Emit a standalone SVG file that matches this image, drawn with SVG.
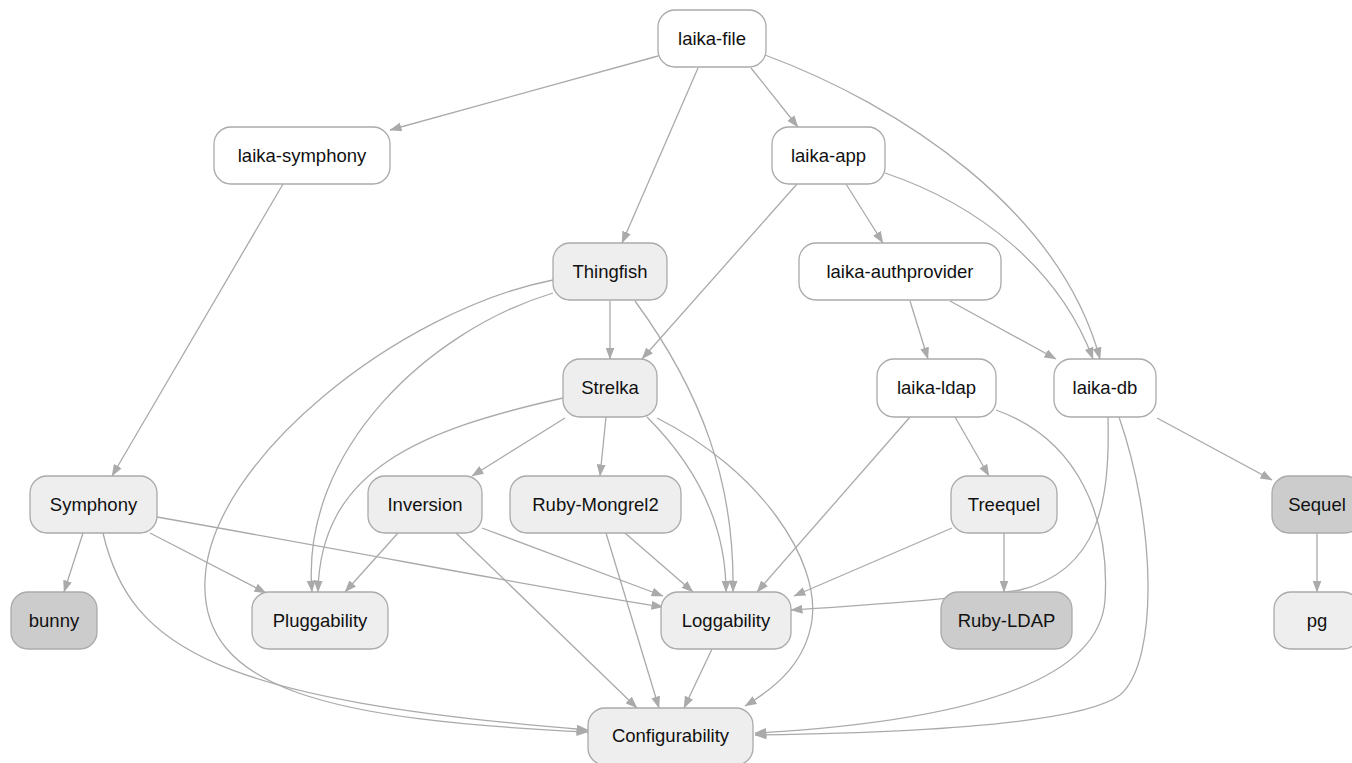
<svg xmlns="http://www.w3.org/2000/svg" width="1352" height="763" viewBox="0 0 1352 763">
<defs>
<style>
.n rect{stroke:#aaaaaa;stroke-width:1.3}
.w rect{fill:#ffffff}
.l rect{fill:#eeeeee}
.d rect{fill:#cccccc}
.n text{font-family:"Liberation Sans",Arial,Helvetica,sans-serif;font-size:18.5px;fill:#111111;text-anchor:middle}
#edges path{fill:none;stroke:#aaaaaa;stroke-width:1.3;marker-end:url(#arr)}
</style>
<marker id="arr" viewBox="0 0 12 9" refX="11.5" refY="4.5" markerWidth="12" markerHeight="9" markerUnits="userSpaceOnUse" orient="auto">
<path d="M0,0 L12,4.5 L0,9 z" fill="#aaaaaa"/>
</marker>
</defs>
<rect width="1352" height="763" fill="#ffffff"/>
<g id="edges">
<path d="M658,56 L390,130"/>
<path d="M698,68 L622,243"/>
<path d="M751,68 L798,127"/>
<path d="M765,55 C900,105 1060,210 1100,359"/>
<path d="M797,184 L642,359"/>
<path d="M846,184 L883,243"/>
<path d="M885,173 C980,205 1060,270 1093,359"/>
<path d="M910,301 L928,359"/>
<path d="M950,301 L1056,359"/>
<path d="M283,184 L112,476"/>
<path d="M610,301 L610,359"/>
<path d="M635,301 C700,390 735,480 733,592"/>
<path d="M553,293 C430,330 300,450 312,592"/>
<path d="M553,280 C400,310 210,460 205,580 C200,690 330,720 588,732"/>
<path d="M563,398 C420,430 320,470 318,592"/>
<path d="M565,418 L472,476"/>
<path d="M606,417 L600,476"/>
<path d="M647,417 C700,470 726,530 726,592"/>
<path d="M657,418 C760,470 820,560 812,620 C806,660 780,685 745,706"/>
<path d="M910,417 L757,592"/>
<path d="M955,417 L989,476"/>
<path d="M996,410 C1080,440 1110,520 1105,600 C1098,700 900,725 755,733"/>
<path d="M1119,417 C1155,520 1160,660 1120,695 C1080,725 900,733 755,735"/>
<path d="M1108,417 C1110,500 1100,570 1020,590 C950,600 850,606 791,610"/>
<path d="M1157,418 L1272,480"/>
<path d="M83,533 L64,592"/>
<path d="M150,533 L266,593"/>
<path d="M157,517 C400,560 550,590 663,607"/>
<path d="M103,533 C130,650 220,700 588,730"/>
<path d="M398,533 L345,592"/>
<path d="M482,528 L663,596"/>
<path d="M456,533 L637,708"/>
<path d="M625,533 L693,592"/>
<path d="M606,533 L659,708"/>
<path d="M952,528 L794,596"/>
<path d="M1004,533 L1004,592"/>
<path d="M712,649 L684,708"/>
<path d="M1317,533 L1317,592"/>
</g>
<g id="laika-file" class="n w"><rect x="658" y="10" width="108" height="57" rx="17"/><text x="712" y="44.5">laika-file</text></g>
<g id="laika-symphony" class="n w"><rect x="214" y="127" width="176" height="57" rx="17"/><text x="302" y="161.5">laika-symphony</text></g>
<g id="laika-app" class="n w"><rect x="772" y="127" width="113" height="57" rx="17"/><text x="828.5" y="161.5">laika-app</text></g>
<g id="Thingfish" class="n l"><rect x="553" y="243" width="114" height="57" rx="17"/><text x="610" y="277.5">Thingfish</text></g>
<g id="laika-authprovider" class="n w"><rect x="799" y="243" width="202" height="57" rx="17"/><text x="900" y="277.5">laika-authprovider</text></g>
<g id="Strelka" class="n l"><rect x="563" y="359" width="94" height="58" rx="17"/><text x="610" y="394">Strelka</text></g>
<g id="laika-ldap" class="n w"><rect x="877" y="359" width="119" height="58" rx="17"/><text x="936.5" y="394">laika-ldap</text></g>
<g id="laika-db" class="n w"><rect x="1054" y="359" width="102" height="58" rx="17"/><text x="1105" y="394">laika-db</text></g>
<g id="Symphony" class="n l"><rect x="30" y="476" width="127" height="57" rx="17"/><text x="93.5" y="510.5">Symphony</text></g>
<g id="Inversion" class="n l"><rect x="368" y="476" width="114" height="57" rx="17"/><text x="425" y="510.5">Inversion</text></g>
<g id="Ruby-Mongrel2" class="n l"><rect x="510" y="476" width="171" height="57" rx="17"/><text x="595.5" y="510.5">Ruby-Mongrel2</text></g>
<g id="Treequel" class="n l"><rect x="951" y="476" width="106" height="57" rx="17"/><text x="1004" y="510.5">Treequel</text></g>
<g id="Sequel" class="n d"><rect x="1272" y="476" width="90" height="57" rx="17"/><text x="1317" y="510.5">Sequel</text></g>
<g id="bunny" class="n d"><rect x="11" y="592" width="86" height="57" rx="17"/><text x="54" y="626.5">bunny</text></g>
<g id="Pluggability" class="n l"><rect x="252" y="592" width="136" height="57" rx="17"/><text x="320" y="626.5">Pluggability</text></g>
<g id="Loggability" class="n l"><rect x="661" y="592" width="130" height="57" rx="17"/><text x="726" y="626.5">Loggability</text></g>
<g id="Ruby-LDAP" class="n d"><rect x="941" y="592" width="131" height="57" rx="17"/><text x="1006.5" y="626.5">Ruby-LDAP</text></g>
<g id="pg" class="n l"><rect x="1274" y="592" width="86" height="57" rx="17"/><text x="1317" y="626.5">pg</text></g>
<g id="Configurability" class="n l"><rect x="588" y="708" width="165" height="57" rx="17"/><text x="670.5" y="742">Configurability</text></g>
</svg>
